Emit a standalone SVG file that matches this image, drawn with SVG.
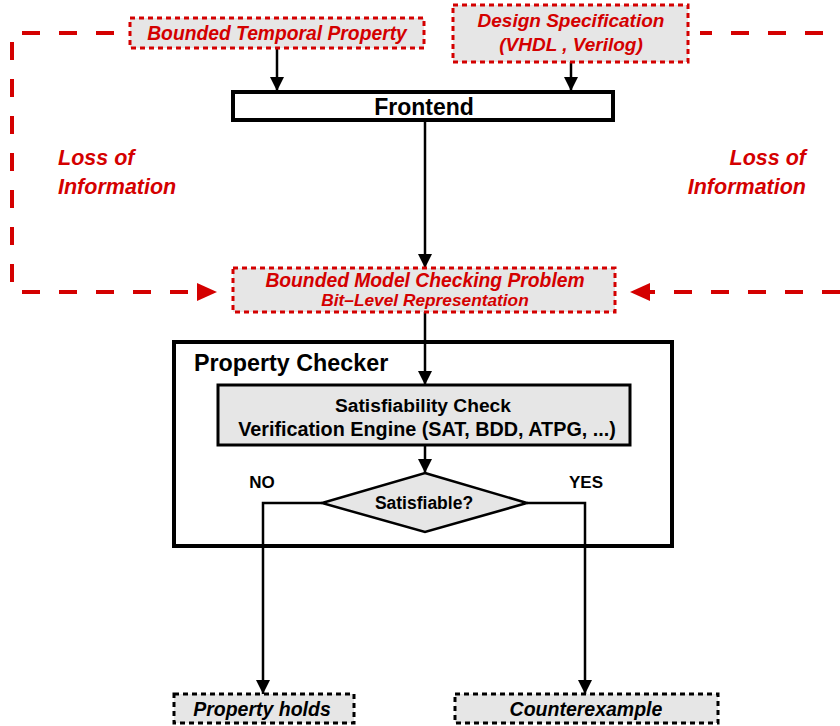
<svg xmlns="http://www.w3.org/2000/svg" width="840" height="726" viewBox="0 0 840 726">
<defs>
<style>
.red{fill:#d40000;font-family:"Liberation Sans",Arial,sans-serif;font-weight:bold;font-style:italic}
.blk{fill:#000;font-family:"Liberation Sans",Arial,sans-serif;font-weight:bold}
.dotbox{fill:#e6e6e6;stroke:#d40000;stroke-width:3;stroke-dasharray:5 4}
.dotboxk{fill:#e6e6e6;stroke:#000;stroke-width:3;stroke-dasharray:5 4}
.dash{fill:none;stroke:#d40000;stroke-width:4;stroke-dasharray:18 19}
.line{fill:none;stroke:#000;stroke-width:2.5}
</style>
<marker id="ah" markerWidth="14" markerHeight="14" viewBox="0 0 14 14" refX="14" refY="7" orient="auto" markerUnits="userSpaceOnUse">
<path d="M0,0 L14,7 L0,14 Z" fill="#000"/>
</marker>
</defs>
<rect width="840" height="726" fill="#fff"/>

<g id="connectors">
<path class="dash" d="M22,33 H128"/>
<path class="dash" d="M12,42 V285"/>
<path class="dash" d="M22,292 H196"/>
<path d="M197,283 L217,292 L197,301 Z" fill="#d40000"/>
<path class="dash" d="M700,33 H840" style="stroke-dashoffset:6"/>
<path class="dash" d="M840,292 H650"/>
<path d="M650,283 L630,292 L650,301 Z" fill="#d40000"/>
<path class="line" d="M277,48 V91" marker-end="url(#ah)"/>
<path class="line" d="M571,62 V91" marker-end="url(#ah)"/>
<path class="line" d="M425,121 V268" marker-end="url(#ah)"/>
<path class="line" d="M425,312 V385" marker-end="url(#ah)"/>
<path class="line" d="M425,445 V473" marker-end="url(#ah)"/>
<path class="line" d="M322,503 H263 V694" marker-end="url(#ah)"/>
<path class="line" d="M527,503 H585 V694" marker-end="url(#ah)"/>
</g>

<g id="btp">
<rect class="dotbox" x="130" y="18" width="294" height="30"/>
<text class="red" x="277" y="40" font-size="19.3" text-anchor="middle">Bounded Temporal Property</text>
</g>

<g id="design">
<rect class="dotbox" x="453" y="5" width="235" height="57"/>
<text class="red" x="571" y="27" font-size="19" text-anchor="middle">Design Specification</text>
<text class="red" x="571" y="51" font-size="19" text-anchor="middle">(VHDL , Verilog)</text>
</g>

<g id="frontend">
<rect x="233" y="92" width="380" height="28" fill="#fff" stroke="#000" stroke-width="4"/>
<text class="blk" x="424" y="115" font-size="23" text-anchor="middle">Frontend</text>
</g>

<g id="loss-left">
<text class="red" x="58" y="165" font-size="21.5">Loss of</text>
<text class="red" x="58" y="194" font-size="21.5">Information</text>
</g>

<g id="loss-right">
<text class="red" x="806" y="165" font-size="21.5" text-anchor="end">Loss of</text>
<text class="red" x="806" y="194" font-size="21.5" text-anchor="end">Information</text>
</g>

<g id="bmc">
<rect class="dotbox" x="233" y="268" width="382" height="44"/>
<text class="red" x="425" y="287" font-size="19.3" text-anchor="middle">Bounded Model Checking Problem</text>
<text class="red" x="425" y="306" font-size="17.3" text-anchor="middle">Bit–Level Representation</text>
</g>

<g id="property-checker">
<rect x="174" y="342" width="498" height="204" fill="none" stroke="#000" stroke-width="4"/>
<text class="blk" x="194" y="371" font-size="23.3">Property Checker</text>
</g>

<g id="sat-check">
<rect x="218" y="385" width="412" height="60" fill="#e6e6e6" stroke="#000" stroke-width="3"/>
<text class="blk" x="423" y="412" font-size="19.2" text-anchor="middle">Satisfiability Check</text>
<text class="blk" x="427" y="436" font-size="19.8" text-anchor="middle">Verification Engine (SAT, BDD, ATPG, ...)</text>
</g>

<g id="decision">
<path d="M425,473 L527,503 L425,532 L322,503 Z" fill="#e6e6e6" stroke="#000" stroke-width="2.5"/>
<text class="blk" x="424" y="509" font-size="17.5" text-anchor="middle">Satisfiable?</text>
<text class="blk" x="262" y="488" font-size="17" text-anchor="middle">NO</text>
<text class="blk" x="586" y="488" font-size="17" text-anchor="middle">YES</text>
</g>

<g id="holds">
<rect class="dotboxk" x="174" y="694" width="180" height="29"/>
<text class="blk" x="262" y="716" font-size="19.5" font-style="italic" text-anchor="middle">Property holds</text>
</g>

<g id="counter">
<rect class="dotboxk" x="455" y="694" width="263" height="29"/>
<text class="blk" x="586" y="716" font-size="19.5" font-style="italic" text-anchor="middle">Counterexample</text>
</g>
</svg>
